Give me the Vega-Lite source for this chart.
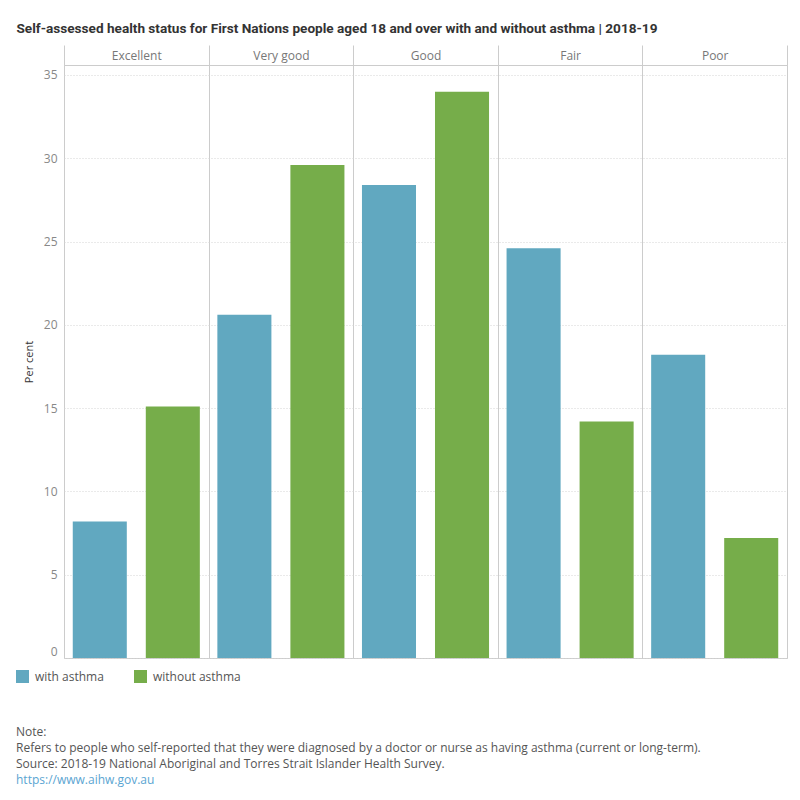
{
  "$schema": "https://vega.github.io/schema/vega-lite/v6.json",
  "width": 723,
  "height": 593,
  "autosize": {"type": "none"},
  "padding": {"left": 64, "top": 65, "right": 13, "bottom": 142},
  "background": "white",
  "title": {
    "text": ["Note:", "Refers to people who self-reported that they were diagnosed by a doctor or nurse as having asthma (current or long-term).", "Source: 2018-19 National Aboriginal and Torres Strait Islander Health Survey."],
    "subtitle": "https://www.aihw.gov.au",
    "orient": "bottom",
    "anchor": "start",
    "frame": "group",
    "dx": -48,
    "offset": 44,
    "font": "Open Sans",
    "fontSize": 12,
    "fontWeight": "normal",
    "color": "#555555",
    "lineHeight": 16,
    "subtitleFont": "Open Sans",
    "subtitleFontSize": 12,
    "subtitleColor": "#5aa5d2",
    "subtitleLineHeight": 16,
    "subtitlePadding": 4
  },
  "data": {
    "values": [
      {"status": "Excellent", "group": "with asthma", "value": 8.2},
      {"status": "Excellent", "group": "without asthma", "value": 15.1},
      {"status": "Very good", "group": "with asthma", "value": 20.6},
      {"status": "Very good", "group": "without asthma", "value": 29.6},
      {"status": "Good", "group": "with asthma", "value": 28.4},
      {"status": "Good", "group": "without asthma", "value": 34.0},
      {"status": "Fair", "group": "with asthma", "value": 24.6},
      {"status": "Fair", "group": "without asthma", "value": 14.2},
      {"status": "Poor", "group": "with asthma", "value": 18.2},
      {"status": "Poor", "group": "without asthma", "value": 7.2}
    ]
  },
  "mark": {"type": "bar"},
  "encoding": {
    "x": {
      "field": "status",
      "type": "nominal",
      "sort": ["Excellent", "Very good", "Good", "Fair", "Poor"],
      "scale": {"paddingInner": 0, "paddingOuter": 0},
      "axis": {
        "orient": "top",
        "title": "Self-assessed health status for First Nations people aged 18 and over with and without asthma | 2018-19",
        "titleX": -48,
        "titleY": -37,
        "titleAnchor": "start",
        "titleAlign": "left",
        "titleBaseline": "middle",
        "titleFont": "Roboto",
        "titleFontSize": 13.6,
        "titleFontWeight": "bold",
        "titleColor": "#333333",
        "tickBand": "extent",
        "ticks": true,
        "tickSize": 20,
        "tickColor": "#cccccc",
        "tickWidth": 1,
        "domain": true,
        "domainColor": "#cccccc",
        "grid": true,
        "gridColor": "#cccccc",
        "gridWidth": 1,
        "labelAngle": 0,
        "labelBaseline": "middle",
        "labelPadding": -10,
        "labelFont": "Open Sans",
        "labelFontSize": 12,
        "labelColor": "#777777"
      }
    },
    "xOffset": {
      "field": "group",
      "type": "nominal",
      "scale": {"paddingInner": 0.26, "paddingOuter": 0.12}
    },
    "y": {
      "field": "value",
      "type": "quantitative",
      "scale": {"domain": [0, 35.6], "nice": false, "zero": true},
      "axis": {
        "title": "Per cent",
        "titleFont": "Open Sans",
        "titleFontSize": 11,
        "titleFontWeight": "normal",
        "titleColor": "#333333",
        "titlePadding": 9,
        "values": [0, 5, 10, 15, 20, 25, 30, 35],
        "domain": false,
        "ticks": false,
        "grid": true,
        "gridColor": "#d4d4d4",
        "gridDash": [1, 2],
        "labelFlush": true,
        "labelPadding": 7,
        "labelFont": "Open Sans",
        "labelFontSize": 12,
        "labelColor": "#888888"
      }
    },
    "color": {
      "field": "group",
      "type": "nominal",
      "scale": {"domain": ["with asthma", "without asthma"], "range": ["#61a8c0", "#76ad4a"]},
      "legend": {
        "title": null,
        "orient": "none",
        "legendX": -48,
        "legendY": 605,
        "direction": "horizontal",
        "symbolType": "square",
        "symbolSize": 169,
        "symbolStrokeWidth": 0,
        "labelFont": "Open Sans",
        "labelFontSize": 12,
        "labelColor": "#555555",
        "labelOffset": 6,
        "columnPadding": 30
      }
    }
  },
  "config": {
    "view": {"stroke": "#cccccc", "strokeWidth": 1}
  }
}
